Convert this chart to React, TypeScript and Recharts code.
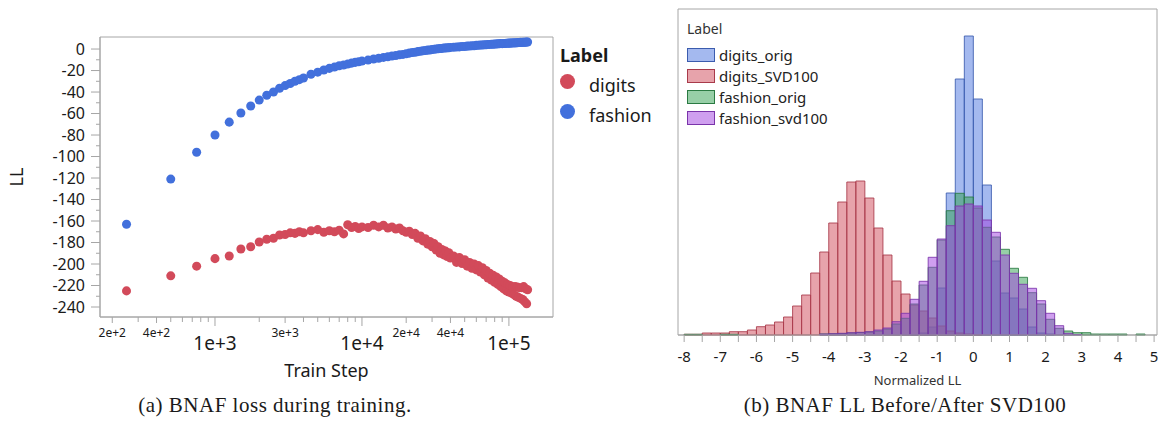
import React from "react";
import { ScatterChart, Scatter, BarChart, Bar, XAxis, YAxis, ReferenceArea } from "recharts";

// ---------- (a) BNAF loss during training ----------

const steps = [
  250, 500, 750, 1000, 1250, 1500, 1750, 2000, 2250, 2500, 2750, 3000, 3250, 3500, 3750, 4000,
  4500, 5000, 5500, 6000, 6500, 7000, 7500, 8000, 8500, 9000, 9500, 10000,
  11000, 12000, 13000, 14000, 15000, 16000, 17000, 18000, 19000, 20000, 21000, 22000, 23000, 24000, 25000,
  26000, 27000, 28000, 29000, 30000, 31000, 32000, 33000, 34000, 35000, 36000, 37000, 38000, 39000, 40000,
  42000, 44000, 46000, 48000, 50000, 52000, 54000, 56000, 58000, 60000, 62000, 64000, 66000, 68000, 70000,
  72000, 74000, 76000, 78000, 80000, 82000, 84000, 86000, 88000, 90000, 92000, 94000, 96000, 98000, 100000,
  102000, 104000, 106000, 108000, 110000, 112000, 114000, 116000, 118000, 120000, 122000, 124000, 126000,
  128000, 130000, 132000, 134000,
];

const digitsLL = [
  -225, -211, -202, -195, -192.5, -186, -184, -179.5, -177, -176, -173, -172.5, -171, -171.5, -170, -171,
  -169, -168, -170.5, -169, -170, -168.5, -172, -163.5, -166, -165, -167, -165.5,
  -166, -164, -165.5, -164, -166.5, -165.5, -167.5, -166.5, -169, -170.5, -169.5, -172.5, -171.5, -176, -174,
  -178.5, -176.5, -181.5, -179, -184, -181, -187, -184, -190, -186.5, -191.5, -188, -193, -189.5, -194.5,
  -192.5, -198.5, -194, -199.5, -196, -202, -198.5, -204, -200, -205.5, -201.5, -207.5, -203.5, -210, -206,
  -213, -208.5, -215, -210.5, -217, -212, -219, -214, -221, -216, -223, -217.5, -225, -219, -226,
  -220, -227, -221.5, -228.5, -221, -230, -221.5, -231, -222, -232, -222, -233, -221,
  -235, -223, -237, -224,
];

const fashionLL = [
  -163, -121, -96, -80, -68, -59.5, -53, -47.5, -43, -40, -36.5, -34, -32, -30, -28.5, -27,
  -23.5, -21.5, -19.5, -18, -16.8, -15.6, -14.8, -14, -13.1, -12.4, -11.8, -11.2,
  -10.3, -9.3, -8.6, -7.8, -7.2, -6.5, -6.1, -5.4, -5, -4.4, -3.8, -3.3, -3, -2.4, -2.1,
  -1.6, -1.4, -1, -0.9, -0.4, -0.3, 0.1, 0.2, 0.5, 0.6, 0.9, 0.9, 1.2, 1.2, 1.5,
  1.6, 1.9, 2.0, 2.3, 2.4, 2.7, 2.8, 3.0, 3.1, 3.4, 3.5, 3.7, 3.8, 4.0, 4.0,
  4.3, 4.3, 4.5, 4.5, 4.7, 4.7, 4.9, 4.9, 5.1, 5.0, 5.2, 5.2, 5.4, 5.3, 5.5,
  5.5, 5.6, 5.6, 5.8, 5.7, 5.9, 5.9, 6.0, 6.0, 6.2, 6.1, 6.3, 6.3,
  6.4, 6.4, 6.5, 6.6,
];

const stepTicks = [
  200, 300, 400, 500, 600, 700, 800, 900, 1000,
  2000, 3000, 4000, 5000, 6000, 7000, 8000, 9000, 10000,
  20000, 30000, 40000, 50000, 60000, 70000, 80000, 90000, 100000,
];
const smallLabelSteps = [200, 400, 3000, 20000, 40000];

const llTicks = [
  -240, -230, -220, -210, -200, -190, -180, -170, -160, -150, -140, -130, -120,
  -110, -100, -90, -80, -70, -60, -50, -40, -30, -20, -10, 0,
];

const lossSeries = [
  { name: "digits", color: "#d24a5a", values: digitsLL },
  { name: "fashion", color: "#4270dc", values: fashionLL },
];

// ---------- (b) BNAF LL Before/After SVD100 ----------

const binCenters = [
  -7.875, -7.625, -7.375, -7.125, -6.875, -6.625, -6.375, -6.125, -5.875, -5.625,
  -5.375, -5.125, -4.875, -4.625, -4.375, -4.125, -3.875, -3.625, -3.375, -3.125,
  -2.875, -2.625, -2.375, -2.125, -1.875, -1.625, -1.375, -1.125, -0.875, -0.625,
  -0.375, -0.125, 0.125, 0.375, 0.625, 0.875, 1.125, 1.375, 1.625, 1.875,
  2.125, 2.375, 2.625, 2.875, 3.125, 3.375, 3.625, 3.875, 4.125, 4.375,
  4.625, 4.875,
];

const digitsOrig = [
  0, 0, 0, 0, 0, 0, 0, 0, 0, 0,
  0, 0, 0, 0, 0, 0, 0, 0, 0, 0,
  0, 0, 0, 0, 0, 0.5, 2, 8, 47, 142,
  256, 299, 236, 150, 74, 42, 37, 26, 8, 2,
  1, 0, 0, 0, 0, 0, 0, 0, 0, 0,
  0, 0,
];
const digitsSvd = [
  0.7, 0.7, 2, 2, 2, 3.3, 3.3, 5, 8.3, 10,
  13, 18, 29, 40, 62, 83, 112, 133, 153, 154,
  137, 107, 80, 54, 41, 30, 24, 17, 9, 4,
  2, 1, 0.5, 0, 0, 0, 0, 0, 0, 0,
  0, 0, 0, 0, 0, 0, 0, 0, 0, 0,
  0, 0,
];
const fashionOrig = [
  0.7, 0.7, 0, 0, 0.7, 0.7, 0, 0, 0, 0,
  0, 0, 0, 0, 0, 1, 1.2, 1.5, 2, 2.5,
  3, 4, 6, 11, 16.7, 31, 50, 67.7, 95, 124.3,
  141.7, 138, 127, 107.7, 98, 85.7, 66.7, 57.7, 42.3, 31,
  15.7, 6.7, 4, 2.3, 2.3, 1, 1, 1, 1, 0,
  1, 0,
];
const fashionSvd = [
  0, 0, 0, 0, 0, 0, 0, 0, 0, 0,
  0, 0, 0, 0, 0, 1, 1.3, 1.7, 2.3, 2.7,
  3.3, 5, 7, 13.3, 21.7, 35.7, 53.7, 77.7, 96, 109.3,
  129, 131, 129, 115, 102.7, 80, 61.7, 50.7, 46.7, 34.3,
  21.7, 9.3, 1.7, 0.5, 0, 0, 0, 0, 0, 0,
  0, 0,
];

const histTicks = [
  -8, -7.5, -7, -6.5, -6, -5.5, -5, -4.5, -4, -3.5, -3, -2.5, -2, -1.5,
  -1, -0.5, 0, 0.5, 1, 1.5, 2, 2.5, 3, 3.5, 4, 4.5, 5,
];

const histSeries = [
  { key: "digits_orig", values: digitsOrig, fill: "#4a74e0", stroke: "#3b5cae" },
  { key: "digits_SVD100", values: digitsSvd, fill: "#d04858", stroke: "#a83a4a" },
  { key: "fashion_orig", values: fashionOrig, fill: "#30a050", stroke: "#2a7a42" },
  { key: "fashion_svd100", values: fashionSvd, fill: "#a040e0", stroke: "#7a34aa" },
];

const AXIS = "#a6a6a6";
const INK = "#1a1a1a";
const SANS = "'Noto Sans', sans-serif";
const SERIF = "'Liberation Serif', serif";

const isDecade = (v: number) => Math.abs(Math.log10(v) - Math.round(Math.log10(v))) < 1e-9;
const expLabel = (v: number) => {
  const e = Math.floor(Math.log10(v) + 1e-9);
  return `${Math.round(v / 10 ** e)}e+${e}`;
};

function StepTick(props: any) {
  const { x, y, payload } = props;
  const v = payload.value;
  const decade = isDecade(v);
  const small = smallLabelSteps.includes(v);
  const len = decade ? 9 : small ? 6 : 5;
  return (
    <g>
      <line x1={x} x2={x} y1={y} y2={y + len} stroke={AXIS} />
      {decade && (
        <text x={x} y={y + 33} textAnchor="middle" fontSize={19} fill={INK} fontFamily={SANS}>
          {expLabel(v)}
        </text>
      )}
      {small && (
        <text x={x} y={y + 20} textAnchor="middle" fontSize={12} fill={INK} fontFamily={SANS}>
          {expLabel(v)}
        </text>
      )}
    </g>
  );
}

function LLTick(props: any) {
  const { x, y, payload } = props;
  const major = payload.value % 20 === 0;
  return (
    <g>
      <line x1={x - (major ? 9 : 4)} x2={x} y1={y} y2={y} stroke={AXIS} />
      {major && (
        <text x={x - 15} y={y + 5.7} textAnchor="end" fontSize={16} fill={INK} fontFamily={SANS}>
          {payload.value}
        </text>
      )}
    </g>
  );
}

function BinTick(props: any) {
  const { x, y, payload } = props;
  const v = payload.value;
  return (
    <g>
      <line x1={x} x2={x} y1={y} y2={y + 7} stroke={AXIS} />
      {Number.isInteger(v) && (
        <text x={x} y={y + 27} textAnchor="middle" fontSize={15} fill={INK} fontFamily={SANS}>
          {v}
        </text>
      )}
    </g>
  );
}

const STEP_DOMAIN = [165, 199500];
const LL_DOMAIN = [-249.3, 11.2];
const BIN_DOMAIN = [-8.17, 5.08];
const COUNT_DOMAIN = [0, 326];

function LossChart() {
  return (
    <ScatterChart width={558} height={400} margin={{ top: 37, right: 5, bottom: 23, left: 0 }}>
      <XAxis
        xAxisId="step"
        dataKey="step"
        type="number"
        scale="log"
        domain={STEP_DOMAIN}
        ticks={stepTicks}
        interval={0}
        tick={<StepTick />}
        tickSize={0}
        tickMargin={0}
        tickLine={false}
        axisLine={{ stroke: AXIS }}
        height={60}
        label={{ value: "Train Step", position: "insideBottom", offset: 0, fontSize: 18, fill: INK, fontFamily: SANS }}
      />
      <YAxis
        yAxisId="ll"
        dataKey="ll"
        type="number"
        domain={LL_DOMAIN}
        ticks={llTicks}
        interval={0}
        tick={<LLTick />}
        tickSize={0}
        tickMargin={0}
        tickLine={false}
        axisLine={{ stroke: AXIS }}
        width={100}
        label={{ value: "LL", angle: -90, position: "insideLeft", offset: 17, fontSize: 18, fill: INK, fontFamily: SANS, style: { textAnchor: "middle" } }}
      />
      {/* plot frame */}
      <ReferenceArea
        xAxisId="step"
        yAxisId="ll"
        x1={STEP_DOMAIN[0]}
        x2={STEP_DOMAIN[1]}
        y1={LL_DOMAIN[0]}
        y2={LL_DOMAIN[1]}
        fill="none"
        stroke={AXIS}
        ifOverflow="visible"
      />
      {lossSeries.map((s) => (
        <Scatter
          key={s.name}
          name={s.name}
          xAxisId="step"
          yAxisId="ll"
          data={steps.map((step, i) => ({ step, ll: s.values[i] }))}
          fill={s.color}
          isAnimationActive={false}
        />
      ))}
    </ScatterChart>
  );
}

function HistChart() {
  const rows = binCenters.map((bin, i) => {
    const row: Record<string, number> = { bin };
    histSeries.forEach((s) => (row[s.key] = s.values[i]));
    return row;
  });
  return (
    <BarChart width={488} height={400} data={rows} margin={{ top: 9, right: 1, bottom: 15, left: 8 }} barGap={0} barCategoryGap={0}>
      {/* one x axis per series so the bars overlap instead of sitting side by side */}
      {histSeries.map((s, i) =>
        i === 0 ? (
          <XAxis
            key={s.key}
            xAxisId={s.key}
            dataKey="bin"
            type="number"
            domain={BIN_DOMAIN}
            ticks={histTicks}
            interval={0}
            tick={<BinTick />}
            tickSize={0}
            tickMargin={0}
            tickLine={false}
            axisLine={{ stroke: AXIS }}
            height={50}
            label={{ value: "Normalized LL", position: "insideBottom", offset: 0, fontSize: 13, fill: "#333", fontFamily: SANS }}
          />
        ) : (
          <XAxis key={s.key} xAxisId={s.key} dataKey="bin" type="number" domain={BIN_DOMAIN} height={0} hide />
        )
      )}
      <YAxis yAxisId="count" type="number" domain={COUNT_DOMAIN} hide />
      <ReferenceArea
        xAxisId={histSeries[0].key}
        yAxisId="count"
        x1={BIN_DOMAIN[0]}
        x2={BIN_DOMAIN[1]}
        y1={COUNT_DOMAIN[0]}
        y2={COUNT_DOMAIN[1]}
        fill="none"
        stroke={AXIS}
        ifOverflow="visible"
      />
      {histSeries.map((s) => (
        <Bar
          key={s.key}
          xAxisId={s.key}
          yAxisId="count"
          dataKey={s.key}
          fill={s.fill}
          fillOpacity={0.5}
          stroke={s.stroke}
          strokeOpacity={0.85}
          strokeWidth={1}
          barSize={9}
          isAnimationActive={false}
        />
      ))}
    </BarChart>
  );
}

export default function App() {
  return (
    <div style={{ position: "relative", width: 1158, height: 428, background: "#fff", fontFamily: SANS, color: INK, overflow: "hidden" }}>
      <style>{"body{margin:0}"}</style>

      <div style={{ position: "absolute", left: 0, top: 0 }}>
        <LossChart />
      </div>

      {/* legend of (a) */}
      <div style={{ position: "absolute", left: 560, top: 43.7 }}>
        <div style={{ fontWeight: 700, fontSize: 18, lineHeight: "22px", marginBottom: 4 }}>Label</div>
        {lossSeries.map((s) => (
          <div key={s.name} style={{ display: "flex", alignItems: "flex-start", height: 30 }}>
            <div style={{ width: 15, height: 15, borderRadius: "50%", background: s.color, marginTop: 4.5 }} />
            <div style={{ marginLeft: 14, fontSize: 18, lineHeight: "30px" }}>{s.name}</div>
          </div>
        ))}
      </div>

      <div style={{ position: "absolute", left: 670, top: 0 }}>
        <HistChart />
      </div>

      {/* legend of (b) */}
      <div style={{ position: "absolute", left: 687, top: 18.9 }}>
        <div style={{ fontSize: 14, lineHeight: "20px", marginBottom: 5.8, color: "#333" }}>Label</div>
        {histSeries.map((s) => (
          <div key={s.key} style={{ display: "flex", alignItems: "flex-start", height: 21.1 }}>
            <div
              style={{
                width: 26,
                height: 12,
                marginTop: 3,
                background: s.fill + "80",
                border: `1px solid ${s.stroke}`,
              }}
            />
            <div style={{ marginLeft: 4, fontSize: 15, lineHeight: "21px", color: "#222" }}>{s.key}</div>
          </div>
        ))}
      </div>

      {/* captions */}
      <div style={{ position: "absolute", left: 0, width: 550, top: 392, textAlign: "center", fontFamily: SERIF, fontSize: 21, letterSpacing: 0.5, lineHeight: "26px" }}>
        (a) BNAF loss during training.
      </div>
      <div style={{ position: "absolute", left: 660, width: 490, top: 392, textAlign: "center", fontFamily: SERIF, fontSize: 21, letterSpacing: 0.5, lineHeight: "26px" }}>
        (b) BNAF LL Before/After SVD100
      </div>
    </div>
  );
}
